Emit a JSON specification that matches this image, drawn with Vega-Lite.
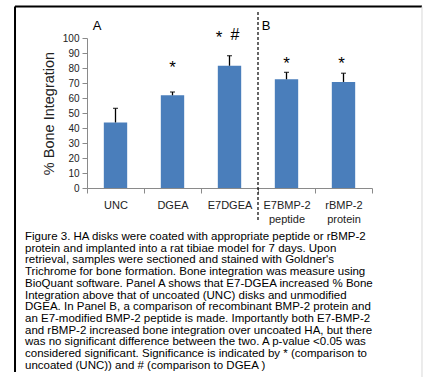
{
  "$schema": "https://vega.github.io/schema/vega-lite/v6.json",
  "width": 285,
  "height": 150,
  "autosize": {"type": "none"},
  "padding": {"left": 87, "top": 38, "right": 51, "bottom": 193},
  "background": "white",
  "config": {
    "view": {"stroke": null},
    "font": "Liberation Sans",
    "text": {"font": "Liberation Sans"},
    "axisY": {
      "tickCount": 10, "labelOverlap": false, "grid": false, "tickSize": 5,
      "tickColor": "#8a8a8a", "domainColor": "#8a8a8a", "labelFontSize": 10,
      "labelColor": "#222", "labelPadding": 3, "labelFont": "Liberation Sans",
      "titleFontSize": 14.5, "titleFontWeight": "normal", "titleColor": "#222",
      "titlePadding": 6, "titleFont": "Liberation Sans"
    }
  },
  "datasets": {
    "bars": [
      {"group": "UNC", "value": 43.7, "upper": 53.1},
      {"group": "DGEA", "value": 61.8, "upper": 64.0},
      {"group": "E7DGEA", "value": 81.5, "upper": 88.2},
      {"group": "E7BMP-2 peptide", "value": 72.5, "upper": 77.1},
      {"group": "rBMP-2 protein", "value": 70.7, "upper": 76.5}
    ],
    "one": [{}]
  },
  "resolve": {"scale": {"x": "independent"}, "axis": {"x": "independent"}},
  "layer": [
    {
      "data": {"name": "bars"},
      "layer": [
        {
          "mark": {"type": "bar", "width": {"band": 0.41}, "color": "#4A7EBB"},
          "encoding": {
            "x": {
              "field": "group", "type": "nominal",
              "scale": {"domain": ["UNC", "DGEA", "E7DGEA", "E7BMP-2 peptide", "rBMP-2 protein"], "paddingInner": 0, "paddingOuter": 0},
              "sort": null,
              "axis": {
                "title": null, "labelAngle": 0, "tickBand": "extent", "tickSize": 5,
                "tickColor": "#8a8a8a", "domainColor": "#8a8a8a", "labelFontSize": 11,
                "labelColor": "#222", "labelPadding": 6, "labelLineHeight": 14,
                "labelExpr": "split(datum.label, ' ')", "labelFont": "Liberation Sans"
              }
            },
            "y": {
              "field": "value", "type": "quantitative", "title": "% Bone Integration",
              "scale": {"domain": [0, 100], "nice": false}
            }
          }
        },
        {
          "mark": {"type": "rule", "color": "black", "strokeWidth": 1.3},
          "encoding": {
            "x": {"field": "group", "type": "nominal", "sort": null},
            "y": {"field": "value", "type": "quantitative", "title": "% Bone Integration", "scale": {"domain": [0, 100], "nice": false}},
            "y2": {"field": "upper"}
          }
        },
        {
          "mark": {"type": "tick", "color": "black", "thickness": 1.3, "size": 5, "orient": "horizontal"},
          "encoding": {
            "x": {"field": "group", "type": "nominal", "sort": null},
            "y": {"field": "upper", "type": "quantitative", "title": "% Bone Integration", "scale": {"domain": [0, 100], "nice": false}}
          }
        },
        {
          "data": {"name": "one"},
          "mark": {"type": "text", "fontSize": 17, "color": "black", "baseline": "alphabetic"},
          "encoding": {
            "x": {"datum": "DGEA"},
            "y": {"datum": 77.0, "type": "quantitative", "title": "% Bone Integration", "scale": {"domain": [0, 100], "nice": false}},
            "text": {"value": "*"}
          }
        },
        {
          "data": {"name": "one"},
          "mark": {"type": "text", "fontSize": 17, "color": "black", "baseline": "alphabetic", "dx": -10.5},
          "encoding": {
            "x": {"datum": "E7DGEA"},
            "y": {"datum": 96.8, "type": "quantitative", "title": "% Bone Integration", "scale": {"domain": [0, 100], "nice": false}},
            "text": {"value": "*"}
          }
        },
        {
          "data": {"name": "one"},
          "mark": {"type": "text", "fontSize": 16, "color": "black", "baseline": "alphabetic", "dx": 5.5},
          "encoding": {
            "x": {"datum": "E7DGEA"},
            "y": {"datum": 98.7, "type": "quantitative", "title": "% Bone Integration", "scale": {"domain": [0, 100], "nice": false}},
            "text": {"value": "#"}
          }
        },
        {
          "data": {"name": "one"},
          "mark": {"type": "text", "fontSize": 17, "color": "black", "baseline": "alphabetic"},
          "encoding": {
            "x": {"datum": "E7BMP-2 peptide"},
            "y": {"datum": 79.5, "type": "quantitative", "title": "% Bone Integration", "scale": {"domain": [0, 100], "nice": false}},
            "text": {"value": "*"}
          }
        },
        {
          "data": {"name": "one"},
          "mark": {"type": "text", "fontSize": 17, "color": "black", "baseline": "alphabetic", "dx": -2},
          "encoding": {
            "x": {"datum": "rBMP-2 protein"},
            "y": {"datum": 79.5, "type": "quantitative", "title": "% Bone Integration", "scale": {"domain": [0, 100], "nice": false}},
            "text": {"value": "*"}
          }
        }
      ]
    },
    {
      "data": {"name": "one"},
      "layer": [
        {
          "mark": {"type": "rule", "color": "black", "strokeWidth": 2},
          "encoding": {
            "x": {"datum": -1.263, "type": "quantitative", "scale": {"domain": [0, 5], "nice": false, "zero": false}, "axis": null},
            "y": {"datum": 121, "type": "quantitative", "title": "% Bone Integration", "scale": {"domain": [0, 100], "nice": false}},
            "y2": {"datum": -122.7}
          }
        },
        {
          "mark": {"type": "rule", "color": "black", "strokeWidth": 2},
          "encoding": {
            "x": {"datum": -1.263, "type": "quantitative", "scale": {"domain": [0, 5], "nice": false, "zero": false}, "axis": null},
            "x2": {"datum": 5.877},
            "y": {"datum": 121, "type": "quantitative", "title": "% Bone Integration", "scale": {"domain": [0, 100], "nice": false}}
          }
        },
        {
          "mark": {"type": "rule", "color": "#d8d8d8", "strokeWidth": 1},
          "encoding": {
            "x": {"datum": 5.877, "type": "quantitative", "scale": {"domain": [0, 5], "nice": false, "zero": false}, "axis": null},
            "y": {"datum": 121, "type": "quantitative", "title": "% Bone Integration", "scale": {"domain": [0, 100], "nice": false}},
            "y2": {"datum": -126}
          }
        },
        {
          "mark": {"type": "rule", "color": "black", "strokeWidth": 1.2, "strokeDash": [3, 2]},
          "encoding": {
            "x": {"datum": 3, "type": "quantitative", "scale": {"domain": [0, 5], "nice": false, "zero": false}, "axis": null},
            "y": {"datum": 117.3, "type": "quantitative", "title": "% Bone Integration", "scale": {"domain": [0, 100], "nice": false}},
            "y2": {"datum": -22}
          }
        },
        {
          "mark": {"type": "text", "fontSize": 13, "color": "black", "baseline": "middle", "align": "center"},
          "encoding": {
            "x": {"datum": 0.175, "type": "quantitative", "scale": {"domain": [0, 5], "nice": false, "zero": false}, "axis": null},
            "y": {"datum": 108.1, "type": "quantitative", "title": "% Bone Integration", "scale": {"domain": [0, 100], "nice": false}},
            "text": {"value": "A"}
          }
        },
        {
          "mark": {"type": "text", "fontSize": 13, "color": "black", "baseline": "middle", "align": "center"},
          "encoding": {
            "x": {"datum": 3.14, "type": "quantitative", "scale": {"domain": [0, 5], "nice": false, "zero": false}, "axis": null},
            "y": {"datum": 108.1, "type": "quantitative", "title": "% Bone Integration", "scale": {"domain": [0, 100], "nice": false}},
            "text": {"value": "B"}
          }
        },
        {
          "mark": {"type": "text", "fontSize": 11.5, "color": "black", "baseline": "top", "align": "left", "lineHeight": 11.7},
          "encoding": {
            "x": {"datum": -1.088, "type": "quantitative", "scale": {"domain": [0, 5], "nice": false, "zero": false}, "axis": null},
            "y": {"datum": -28.7, "type": "quantitative", "title": "% Bone Integration", "scale": {"domain": [0, 100], "nice": false}},
            "text": {"value": [
              "Figure 3. HA disks were coated with appropriate peptide or rBMP-2",
              "protein and implanted into a rat tibiae model for 7 days.  Upon",
              "retrieval, samples were sectioned and stained with Goldner's",
              "Trichrome for bone formation.  Bone integration was measure using",
              "BioQuant software.  Panel A shows that E7-DGEA increased % Bone",
              "Integration above that of uncoated (UNC) disks and unmodified",
              "DGEA.  In Panel B, a comparison of recombinant BMP-2 protein and",
              "an E7-modified BMP-2 peptide is made.  Importantly both E7-BMP-2",
              "and rBMP-2 increased bone integration over uncoated HA, but there",
              "was no significant difference between the two. A p-value <0.05 was",
              "considered significant.  Significance is indicated by * (comparison to",
              "uncoated (UNC)) and # (comparison to DGEA )"
            ]}
          }
        }
      ]
    }
  ]
}
